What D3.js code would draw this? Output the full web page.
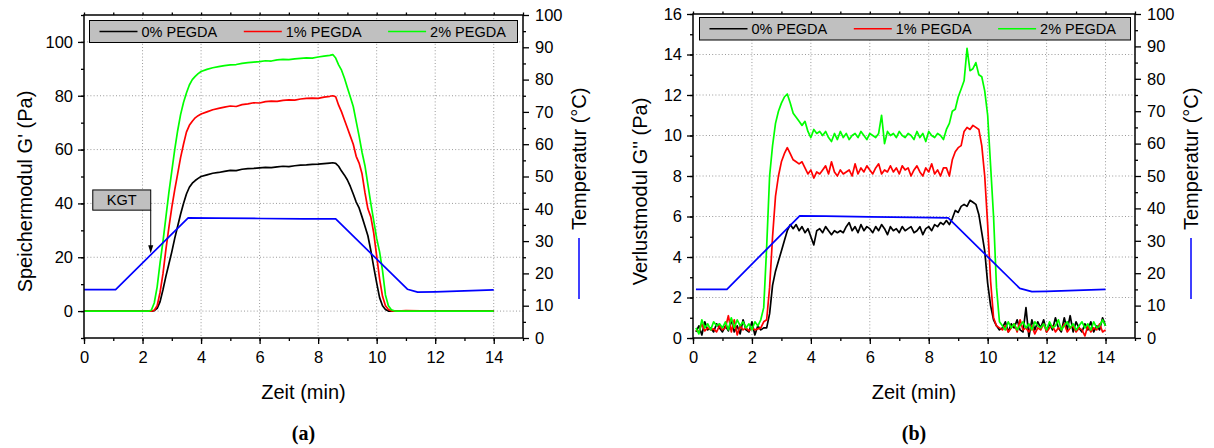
<!DOCTYPE html>
<html><head><meta charset="utf-8">
<script src="https://cdn.jsdelivr.net/npm/d3@7"></script>
<style>
body{margin:0;background:#fff}
text{font-family:"Liberation Sans",Arial,sans-serif;fill:#000}
</style>
</head><body>
<svg id="c" width="1214" height="448" xmlns="http://www.w3.org/2000/svg"></svg>
<script>
// ---------- shared ----------
const seriesNames = ["0% PEGDA", "1% PEGDA", "2% PEGDA"];
const seriesColors = ["#000000", "#ff0000", "#00ff00"];
const tempColor = "#0000ff";
const xTickValues = [0, 2, 4, 6, 8, 10, 12, 14];
const tempTickValues = [0, 10, 20, 30, 40, 50, 60, 70, 80, 90, 100];

// ---------- panel (a): storage modulus G' ----------
const timeA = [0, 1, 2, 2.2, 2.3, 2.4, 2.5, 2.6, 2.7, 2.8, 2.9, 3.0, 3.1, 3.2, 3.3, 3.4, 3.5, 3.6, 3.7, 3.8, 3.9, 4.0,
  4.2, 4.4, 4.6, 4.8, 5.0, 5.2, 5.4, 5.6, 5.8, 6.0, 6.2, 6.4, 6.6, 6.8, 7.0, 7.2, 7.4, 7.6, 7.8, 8.0, 8.2, 8.4,
  8.5, 8.6, 8.7, 8.8, 8.9, 9.0, 9.1, 9.2, 9.3, 9.4, 9.5, 9.6, 9.7, 9.8, 9.9, 10.0, 10.1, 10.2, 10.3, 10.4, 10.5, 10.6, 10.7,
  11, 12, 13, 14];
const gPrime0 = [0, 0, 0, 0, 0, 0.2, 1, 3.5, 8, 13, 17.5, 22, 27, 31.5, 36, 40, 43.5, 46, 47.5, 48.5, 49.3, 50,
  50.6, 51.2, 51.5, 51.9, 52.3, 52.2, 52.7, 52.9, 53.0, 53.2, 53.4, 53.3, 53.6, 53.8, 53.7, 54.0, 54.2, 54.3, 54.5, 54.6, 54.8, 55.0,
  55.1, 54.9, 53.8, 52, 50.5, 48.7, 46.3, 43.5, 40.5, 38.3, 35, 31.5, 28, 22.5, 16.3, 10.5, 5, 2, 0.6, 0, 0, 0, 0,
  0, 0, 0, 0];
const gPrime1 = [0, 0, 0, 0, 0, 0.3, 2, 7, 14, 23, 31, 38.5, 45, 51, 57, 62, 66.5, 69, 70.5, 71.8, 72.6, 73.2,
  74, 74.8, 75.3, 75.8, 76.2, 76.0, 76.7, 77.0, 77.4, 77.3, 77.8, 78.0, 77.9, 78.3, 78.5, 78.4, 78.8, 79.0, 79.1, 79.0, 79.5, 79.8,
  80.0, 79.6, 76.5, 74, 71, 68, 65, 62, 57.5, 55, 51, 44, 38, 35, 29, 20.5, 12, 5.5, 2, 0.6, 0.1, 0, 0,
  0.2, 0, 0, 0];
const gPrime2 = [0, 0, 0, 0, 0.3, 3, 9, 18, 26, 35, 44, 52, 60, 67, 73, 77.5, 81, 84, 86, 87.2, 88.2, 89,
  89.8, 90.4, 90.8, 91.2, 91.5, 91.6, 92.0, 92.3, 92.5, 92.7, 93.0, 92.9, 93.3, 93.5, 93.4, 93.7, 93.9, 94.1, 94.0, 94.4, 94.7, 95.0,
  95.3, 94.0, 91.5, 89.5, 86.5, 83, 79.5, 76, 70.5, 65, 59, 54, 47, 40, 33.5, 27, 22, 15, 6, 2, 0.5, 0.1, 0,
  0, 0, 0, 0];
const tempTimeA = [0, 1.08, 3.56, 4.5, 6.0, 7.5, 8.6, 11.05, 11.4, 12, 13, 14];
const tempA = [15, 15, 37.2, 37.1, 37.0, 36.9, 36.9, 15.1, 14.2, 14.3, 14.6, 14.9];
const yTicksA = [0, 20, 40, 60, 80, 100];
const kgtTime = 2.28;

// ---------- panel (b): loss modulus G'' (sampled every 0.1 min from 0.1 min) ----------
const timeStartB = 0.1, timeStepB = 0.1;
const gDouble0 = [
  0.3, 0.6, 0.15, 0.8, 0.4, 0.5, 0.3, 0.7, 0.5, 0.3,
  0.6, 0.35, 0.9, 0.3, 0.6, 0.2, 0.9, 0.4, 0.3, 0.8,
  0.15, 0.6, 0.4, 0.5, 0.5, 1.2, 2.6, 3.3, 3.8, 4.3,
  4.8, 5.3, 5.6, 5.4, 5.6, 5.3, 5.5, 5.2, 5.4, 5.0,
  4.6, 5.3, 5.4, 5.2, 5.5, 5.3, 5.1, 5.3, 5.2, 5.3,
  5.2, 5.5, 5.7, 5.3, 5.5, 5.2, 5.6, 5.3, 5.5, 5.4,
  5.2, 5.5, 5.3, 5.6, 5.4, 5.1, 5.5, 5.3, 5.4, 5.2,
  5.5, 5.3, 5.4, 5.5, 5.2, 5.3, 5.5, 5.1, 5.4, 5.5,
  5.3, 5.6, 5.5, 5.7, 5.6, 5.8, 5.6, 5.9, 6.3, 6.2,
  6.5, 6.6, 6.5, 6.8, 6.7, 6.6, 6.1, 5.2, 4.3, 2.7,
  1.6, 0.9, 0.6, 0.4, 0.5, 0.8, 0.3, 0.7, 0.5, 0.9,
  0.4, 0.3, 1.5, 0.05, 0.9, 0.4, 0.8, 0.5, 0.9, 0.3,
  0.7, 0.4, 1.0, 0.5, 0.3, 1.0, 0.4, 1.1, 0.3, 0.8,
  0.5, 0.3, 0.7, 0.4, 0.8, 0.3, 0.6, 0.4, 1.0, 0.6];
const gDouble1 = [
  0.4, 0.3, 0.7, 0.35, 0.5, 0.4, 0.45, 0.3, 0.6, 0.4,
  0.5, 1.1, 0.3, 0.9, 0.15, 0.6, 0.4, 0.5, 0.35, 0.5,
  0.4, 0.45, 0.5, 0.8, 0.9, 2.5, 5.0, 7.0, 8.0, 8.7,
  9.1, 9.4, 9.1, 8.8, 8.7, 8.6, 8.7, 8.4, 8.1, 8.3,
  7.9, 8.2, 8.1, 8.3, 8.5, 8.1, 8.7, 8.2, 8.0, 8.3,
  8.1, 8.2, 8.3, 8.0, 8.6, 8.1, 8.4, 8.2, 8.5, 8.3,
  8.1, 8.4, 8.6, 8.1, 8.3, 8.2, 8.5, 8.2, 8.4, 8.1,
  8.5, 8.3, 8.4, 8.0, 8.3, 8.5, 8.2, 8.0, 8.4, 8.2,
  8.6, 8.1, 8.3, 8.0, 8.4, 8.4, 8.0, 8.8, 9.2, 9.4,
  9.5, 10.2, 10.4, 10.3, 10.5, 10.4, 10.3, 9.5, 8.0, 5.6,
  2.8, 1.0, 0.6, 0.5, 0.4, 0.6, 0.3, 0.5, 0.7, 0.3,
  0.9, 0.4, 0.5, 0.3, 0.6, 0.2, 0.5, 0.4, 0.7, 0.3,
  0.5, 0.6, 0.3, 0.5, 0.4, 0.7, 0.3, 0.5, 0.6, 0.3,
  0.5, 0.4, 0.1, 0.6, 0.3, 0.5, 0.4, 0.7, 0.3, 0.4];
const gDouble2 = [
  0.5, 0.2, 0.9, 0.5, 0.7, 0.4, 0.8, 0.6, 0.7, 0.5,
  0.8, 0.4, 1.0, 0.5, 0.9, 0.6, 0.8, 0.5, 0.7, 0.4,
  0.8, 0.6, 0.9, 1.5, 4.5, 8.0, 9.5, 10.6, 11.2, 11.6,
  11.9, 12.05, 11.6, 11.1, 10.9, 10.7, 10.5, 10.7, 10.2, 9.9,
  10.3, 10.1, 10.2, 10.0, 10.2, 9.9, 9.7, 10.1, 9.8, 10.2,
  9.9, 10.1, 9.8, 10.0, 10.1, 9.9, 10.2, 10.0, 9.8, 10.1,
  10.0, 9.9, 10.1, 11.0, 9.6, 10.2, 10.0, 10.1, 9.9, 10.2,
  10.0, 9.9, 10.1, 10.0, 9.8, 10.2, 9.9, 10.1, 9.7, 10.2,
  10.0, 9.9, 10.1, 10.0, 9.8, 10.3, 10.6, 11.2, 11.3, 11.9,
  12.3, 12.7, 14.3, 13.2, 13.3, 13.6, 13.0, 12.9, 12.2, 11.0,
  8.5, 6.0, 2.5, 0.8, 0.6, 0.4, 0.8, 0.5, 0.7, 0.4,
  0.6, 0.8, 0.5, 0.7, 0.4, 0.8, 0.6, 0.5, 0.7, 0.4,
  0.8, 0.5, 0.6, 0.9, 0.4, 0.6, 0.8, 0.5, 0.7, 0.4,
  0.6, 0.8, 0.5, 0.7, 0.4, 0.8, 0.5, 0.6, 0.9, 0.6];
const tempTimeB = [0.1, 1.15, 3.62, 4.5, 6.0, 7.5, 8.66, 11.09, 11.5, 12, 13, 14];
const tempB = [15, 15, 37.7, 37.6, 37.4, 37.2, 37.1, 15.3, 14.3, 14.4, 14.7, 15.0];
const yTicksB = [0, 2, 4, 6, 8, 10, 12, 14, 16];

// ---------- drawing ----------
const svg = d3.select("#c");
svg.append("rect").attr("width", 1214).attr("height", 448).attr("fill", "#fff");

const zip = (ts, vs) => vs.map((v, i) => [ts[i], v]);
const sampled = vs => vs.map((v, i) => [timeStartB + i * timeStepB, v]);

function drawPanel(p) {
  const x = d3.scaleLinear().domain([0, 15]).range([p.left, p.right]);
  const y = d3.scaleLinear().domain(p.yDomain).range([p.bottom, p.top]);
  const yT = d3.scaleLinear().domain([0, 100]).range([p.bottom, p.top]);
  const g = svg.append("g");

  // grid
  const gridStyle = s => s.attr("stroke", "#9a9a9a").attr("stroke-width", 1).attr("stroke-dasharray", "1,2.2");
  g.append("g").selectAll("line").data(xTickValues.filter(d => d > 0)).join("line")
    .attr("x1", d => x(d)).attr("x2", d => x(d)).attr("y1", p.top).attr("y2", p.bottom).call(gridStyle);
  g.append("g").selectAll("line").data(p.yTicks.filter(d => d > p.yDomain[0] && d < p.yDomain[1])).join("line")
    .attr("x1", p.left).attr("x2", p.right).attr("y1", d => y(d)).attr("y2", d => y(d)).call(gridStyle);

  // data lines
  const line = d3.line().x(d => x(d[0])).y(d => y(d[1]));
  p.series.forEach((s, i) => {
    g.append("path").datum(s).attr("d", line).attr("fill", "none")
      .attr("stroke", seriesColors[i]).attr("stroke-width", 1.7).attr("stroke-linejoin", "round");
  });
  const tline = d3.line().x(d => x(d[0])).y(d => yT(d[1]));
  g.append("path").datum(p.temp).attr("d", tline).attr("fill", "none")
    .attr("stroke", tempColor).attr("stroke-width", 1.7).attr("stroke-linejoin", "round");

  // axes
  const styleAxis = (sel, fs) => {
    sel.select(".domain").remove();
    sel.selectAll("line").attr("stroke", "#000").attr("stroke-width", 1.3);
    sel.selectAll("text").style("font-family", '"Liberation Sans",Arial,sans-serif').style("font-size", fs + "px").attr("fill", "#000");
  };
  const xMinor = d3.range(0, 16, 1);
  g.append("g").attr("transform", `translate(0,${p.bottom})`)
    .call(d3.axisBottom(x).tickValues(xMinor).tickSize(3).tickFormat(""))
    .call(s => styleAxis(s, 16.5));
  g.append("g").attr("transform", `translate(0,${p.bottom})`)
    .call(d3.axisBottom(x).tickValues(xTickValues).tickSize(6).tickPadding(7.5).tickFormat(d3.format("d")))
    .call(s => styleAxis(s, 16.5));
  g.append("g").attr("transform", `translate(0,${p.top})`)
    .call(d3.axisTop(x).tickValues(xMinor).tickSize(2.5).tickFormat(""))
    .call(s => styleAxis(s, 16.5));
  g.append("g").attr("transform", `translate(${p.left},0)`)
    .call(d3.axisLeft(y).tickValues(p.yMinor).tickSize(3).tickFormat(""))
    .call(s => styleAxis(s, 16.5));
  g.append("g").attr("transform", `translate(${p.left},0)`)
    .call(d3.axisLeft(y).tickValues(p.yTicks).tickSize(6).tickPadding(5).tickFormat(d3.format("d")))
    .call(s => styleAxis(s, 16.5));
  g.append("g").attr("transform", `translate(${p.right},0)`)
    .call(d3.axisRight(yT).tickValues(d3.range(5, 100, 10)).tickSize(3).tickFormat(""))
    .call(s => styleAxis(s, 16.5));
  g.append("g").attr("transform", `translate(${p.right},0)`)
    .call(d3.axisRight(yT).tickValues(tempTickValues).tickSize(6).tickPadding(6).tickFormat(d3.format("d")))
    .call(s => styleAxis(s, 16.5));

  // frame
  g.append("rect").attr("x", p.left).attr("y", p.top).attr("width", p.right - p.left).attr("height", p.bottom - p.top)
    .attr("fill", "none").attr("stroke", "#000").attr("stroke-width", 1.5);

  // legend
  const L = p.legend;
  g.append("rect").attr("x", L.x).attr("y", L.y).attr("width", L.w).attr("height", L.h)
    .attr("fill", "#c0c0c0").attr("stroke", "#000").attr("stroke-width", 1);
  seriesNames.forEach((n, i) => {
    const lx = L.x + 10 + i * 144.3;
    const cy = L.y + L.h / 2;
    g.append("line").attr("x1", lx).attr("x2", lx + 38).attr("y1", cy).attr("y2", cy)
      .attr("stroke", seriesColors[i]).attr("stroke-width", 1.5);
    g.append("text").attr("x", lx + 42).attr("y", cy + 5.2).style("font-size", "14.5px").text(n);
  });

  // axis titles
  const cy = 191.5;
  g.append("text").attr("transform", `translate(${p.yTitleX},${cy}) rotate(-90)`)
    .attr("text-anchor", "middle").style("font-size", "20px").text(p.yTitle);
  g.append("text").attr("x", (p.left + p.right) / 2).attr("y", 399)
    .attr("text-anchor", "middle").style("font-size", "20px").text("Zeit (min)");
  // temperature title with legend line
  const tx = p.right + 63;
  g.append("text").attr("transform", `translate(${tx},230) rotate(-90)`)
    .attr("text-anchor", "start").style("font-size", "20px").text("Temperatur (°C)");
  g.append("line").attr("x1", tx - 7).attr("x2", tx - 7).attr("y1", 238).attr("y2", 299)
    .attr("stroke", tempColor).attr("stroke-width", 1.5);

  // caption
  g.append("text").attr("x", (p.left + p.right) / 2).attr("y", 440).attr("text-anchor", "middle")
    .style("font-family", '"Liberation Serif","Times New Roman",serif').style("font-weight", "bold")
    .style("font-size", "20px").text(p.caption);

  return { x, y, yT, g };
}

const A = drawPanel({
  left: 84, right: 523, top: 15, bottom: 338,
  yDomain: [-10, 110], yTicks: yTicksA, yMinor: d3.range(-10, 111, 10),
  series: [zip(timeA, gPrime0), zip(timeA, gPrime1), zip(timeA, gPrime2)],
  temp: zip(tempTimeA, tempA),
  legend: { x: 89.5, y: 20.5, w: 428, h: 22 },
  yTitle: "Speichermodul G' (Pa)", yTitleX: 32, caption: "(a)"
});

// KGT annotation (panel a)
{
  const tempAtKgt = d3.scaleLinear().domain(tempTimeA).range(tempA)(kgtTime);
  const ax = A.x(kgtTime), ay = A.yT(tempAtKgt) - 1.5;
  const bx0 = A.x(0.3), by0 = A.y(45), by1 = A.y(37.5);
  A.g.append("rect").attr("x", bx0).attr("y", by0).attr("width", ax - bx0).attr("height", by1 - by0)
    .attr("fill", "#c0c0c0").attr("stroke", "#000").attr("stroke-width", 1);
  A.g.append("text").attr("x", (bx0 + ax) / 2).attr("y", by1 - 5).attr("text-anchor", "middle")
    .style("font-size", "14.5px").text("KGT");
  A.g.append("line").attr("x1", ax).attr("x2", ax).attr("y1", by1).attr("y2", ay - 6)
    .attr("stroke", "#000").attr("stroke-width", 1);
  A.g.append("path").attr("d", `M${ax - 2.5},${ay - 8} L${ax + 2.5},${ay - 8} L${ax},${ay} Z`).attr("fill", "#000");
}

drawPanel({
  left: 693, right: 1135, top: 14, bottom: 338,
  yDomain: [0, 16], yTicks: yTicksB, yMinor: d3.range(0, 17, 1),
  series: [sampled(gDouble0), sampled(gDouble1), sampled(gDouble2)],
  temp: zip(tempTimeB, tempB),
  legend: { x: 699.5, y: 17.5, w: 431, h: 22.5 },
  yTitle: "Verlustmodul G'' (Pa)", yTitleX: 647, caption: "(b)"
});
</script>
</body></html>
